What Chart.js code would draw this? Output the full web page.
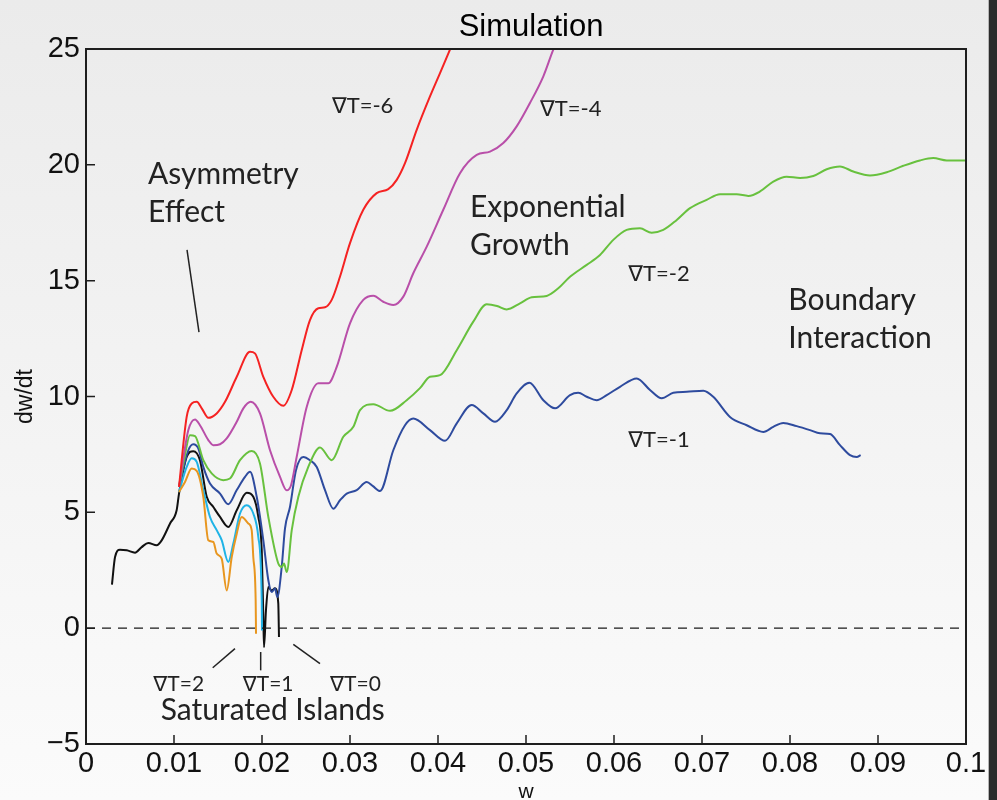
<!DOCTYPE html>
<html>
<head>
<meta charset="utf-8">
<script src="https://cdn.jsdelivr.net/npm/chart.js@4.4.1/dist/chart.umd.min.js"></script>
<style>
  html, body { margin: 0; padding: 0; background: #f3f3f3; }
  #wrap { width: 997px; height: 800px; }
</style>
</head>
<body>
<div id="wrap"><canvas id="grafica" width="997" height="800"></canvas></div>
<script>
// axis ticks
const xTicks = [0, 0.01, 0.02, 0.03, 0.04, 0.05, 0.06, 0.07, 0.08, 0.09, 0.1]
const xTickLabels = ['0', '0.01', '0.02', '0.03', '0.04', '0.05', '0.06', '0.07', '0.08', '0.09', '0.1']
const yTicks = [-5, 0, 5, 10, 15, 20, 25]
const yTickLabels = ['\u22125', '0', '5', '10', '15', '20', '25']

// series, w (x) and dw/dt (y)
const wT0 = [0.00295, 0.0033, 0.00386, 0.00463, 0.00557, 0.00633, 0.00708, 0.00803, 0.0086, 0.00955, 0.0103, 0.01057, 0.01144, 0.01219, 0.01295, 0.01372, 0.01447, 0.01523, 0.01617, 0.01713, 0.01826, 0.01901, 0.01958, 0.01997, 0.02015, 0.02023, 0.02045, 0.02072, 0.0211, 0.02148, 0.02185, 0.02193]
const vT0 = [1.88, 3.07, 3.39, 3.36, 3.26, 3.50, 3.68, 3.58, 3.79, 4.52, 5.09, 5.81, 7.39, 7.64, 7.25, 5.67, 5.23, 4.80, 4.37, 5.09, 5.84, 5.67, 4.80, 3.36, 0.48, -0.82, 0.77, 1.78, 1.63, 1.72, 1.07, -0.38]

const wT1 = [0.01057, 0.01144, 0.01201, 0.01258, 0.01333, 0.01409, 0.01485, 0.01542, 0.01617, 0.01674, 0.0175, 0.01826, 0.01901, 0.01958, 0.01997, 0.0200]
const vT1 = [5.88, 6.96, 7.33, 7.18, 5.96, 4.80, 4.23, 3.80, 2.86, 3.65, 4.95, 5.31, 4.95, 3.94, 1.20, -0.1]

const wT2 = [0.01057, 0.01125, 0.01201, 0.01258, 0.01333, 0.0139, 0.01447, 0.01485, 0.01542, 0.01599, 0.01656, 0.01713, 0.01769, 0.01844, 0.01883, 0.01901, 0.01928, 0.01932]
const vT2 = [5.88, 6.31, 6.89, 6.79, 5.67, 3.79, 3.72, 3.22, 3.00, 1.63, 3.07, 4.08, 4.80, 4.52, 4.23, 3.07, 1.20, -0.24]

const wTm1 = [0.01057, 0.01163, 0.01219, 0.01276, 0.01333, 0.01409, 0.01523, 0.01617, 0.01713, 0.01807, 0.01864, 0.0194, 0.02015, 0.02072, 0.0211, 0.02148, 0.02174, 0.02224, 0.02261, 0.02318, 0.02386, 0.02469, 0.02545, 0.02622, 0.02716, 0.0281, 0.02886, 0.02963, 0.03076, 0.0319, 0.03261, 0.03341, 0.03492, 0.03625, 0.03719, 0.03909, 0.0408, 0.04213, 0.04383, 0.04515, 0.04648, 0.04781, 0.04894, 0.05038, 0.05197, 0.0533, 0.055, 0.05594, 0.0569, 0.05803, 0.05917, 0.06068, 0.06258, 0.06409, 0.06542, 0.06674, 0.06826, 0.07015, 0.07128, 0.07318, 0.07508, 0.07697, 0.0781, 0.07924, 0.08076, 0.08227, 0.08341, 0.08455, 0.08568, 0.08682, 0.08758, 0.08803]
const vTm1 = [6.10, 7.68, 7.94, 7.76, 6.96, 6.24, 5.81, 5.35, 5.96, 6.53, 6.75, 5.67, 3.79, 2.07, 1.56, 1.71, 1.34, 2.64, 4.30, 5.23, 6.82, 7.39, 7.25, 6.96, 5.96, 5.16, 5.52, 5.81, 5.96, 6.31, 6.13, 5.92, 7.68, 8.76, 9.05, 8.55, 8.09, 8.84, 9.63, 9.27, 8.91, 9.41, 10.13, 10.59, 9.84, 9.49, 10.06, 10.16, 9.99, 9.84, 10.06, 10.42, 10.78, 10.28, 9.92, 10.16, 10.20, 10.25, 9.99, 9.12, 8.76, 8.47, 8.69, 8.86, 8.72, 8.55, 8.41, 8.38, 7.90, 7.47, 7.39, 7.47]

const wTm2 = [0.01057, 0.01114, 0.01182, 0.01239, 0.01333, 0.01428, 0.0156, 0.01636, 0.0175, 0.01883, 0.01977, 0.02072, 0.02185, 0.02224, 0.0225, 0.02281, 0.02338, 0.02413, 0.02526, 0.02659, 0.02792, 0.02924, 0.03038, 0.03114, 0.03265, 0.03455, 0.03644, 0.03795, 0.03909, 0.04023, 0.04213, 0.04401, 0.04553, 0.0467, 0.04781, 0.04932, 0.05065, 0.05235, 0.05367, 0.055, 0.0569, 0.05841, 0.05992, 0.06144, 0.06295, 0.06428, 0.0656, 0.06713, 0.06864, 0.07053, 0.07205, 0.07394, 0.07526, 0.07659, 0.0781, 0.07962, 0.08114, 0.08265, 0.08417, 0.08568, 0.08719, 0.08909, 0.09099, 0.09288, 0.09477, 0.09628, 0.09781, 0.1]
const vTm2 = [6.10, 7.25, 8.33, 8.29, 7.25, 6.68, 6.39, 6.46, 7.25, 7.65, 7.11, 4.80, 2.79, 2.64, 2.79, 2.42, 4.23, 5.67, 6.96, 7.80, 7.25, 8.26, 8.69, 9.41, 9.67, 9.38, 9.84, 10.36, 10.85, 10.92, 12.0, 13.23, 13.98, 13.91, 13.76, 14.02, 14.28, 14.34, 14.67, 15.17, 15.68, 16.11, 16.76, 17.19, 17.26, 17.07, 17.19, 17.62, 18.13, 18.49, 18.73, 18.73, 18.66, 18.85, 19.28, 19.49, 19.43, 19.52, 19.81, 19.93, 19.71, 19.54, 19.68, 19.96, 20.19, 20.29, 20.19, 20.19]

const wTm4 = [0.01057, 0.01163, 0.01239, 0.01295, 0.0139, 0.01447, 0.01523, 0.01599, 0.01713, 0.01788, 0.01872, 0.01977, 0.02091, 0.02205, 0.02281, 0.0233, 0.02394, 0.02508, 0.0264, 0.02753, 0.02849, 0.03, 0.03151, 0.03265, 0.03378, 0.03492, 0.03606, 0.03719, 0.03872, 0.0406, 0.0425, 0.0444, 0.04591, 0.04742, 0.04894, 0.05045, 0.05197, 0.0531, 0.0534]
const vTm4 = [6.10, 8.55, 9.01, 8.76, 8.12, 7.90, 7.94, 8.19, 8.91, 9.49, 9.77, 9.27, 7.68, 6.53, 5.95, 6.17, 7.39, 9.55, 10.57, 10.57, 11.28, 13.16, 14.17, 14.35, 14.09, 13.95, 14.31, 15.32, 16.47, 18.06, 19.64, 20.43, 20.57, 20.94, 21.66, 22.67, 23.82, 24.97, 25.23]

const wTm6 = [0.01057, 0.01144, 0.01201, 0.01258, 0.01315, 0.0139, 0.01485, 0.0158, 0.01713, 0.01864, 0.0192, 0.02015, 0.02128, 0.02242, 0.02338, 0.02451, 0.02545, 0.0264, 0.02716, 0.02792, 0.02886, 0.03, 0.03151, 0.03303, 0.03435, 0.03531, 0.03625, 0.03758, 0.03909, 0.04023, 0.04136, 0.0417]
const vTm6 = [6.10, 9.12, 9.70, 9.77, 9.49, 9.08, 9.27, 9.77, 10.85, 11.93, 11.86, 10.85, 9.99, 9.60, 10.28, 12.0, 13.30, 13.81, 13.85, 14.17, 15.17, 16.62, 18.06, 18.78, 18.95, 19.35, 20.07, 21.51, 22.95, 23.96, 24.97, 25.27]

// dashed zero line
const wZero = [0, 0.1]
const vZero = [0, 0]

function puntos(ws, vs) {
    return ws.map((w, i) => ({x: w, y: vs[i]}))
}

function serie(ws, vs, color) {
    return {
        data: puntos(ws, vs),
        borderColor: color,
        borderWidth: 2,
        pointRadius: 0,
        fill: false,
        cubicInterpolationMode: 'monotone'
    }
}

// annotations in data units: text, w, dw/dt (left, baseline), size
const notas = [
    ['Asymmetry', 0.00705, 19.18, 30],
    ['Effect', 0.00705, 17.54, 30],
    ['\u2207T=-6', 0.02795, 22.25, 22],
    ['\u2207T=-4', 0.05159, 22.10, 22],
    ['Exponential', 0.04364, 17.73, 30],
    ['Growth', 0.04364, 16.11, 30],
    ['\u2207T=-2', 0.06163, 15.0, 22],
    ['Boundary', 0.07981, 13.73, 30],
    ['Interaction', 0.07981, 12.08, 30],
    ['\u2207T=-1', 0.06163, 7.80, 22],
    ['\u2207T=2', 0.00765, -2.73, 21],
    ['\u2207T=1', 0.01781, -2.73, 21],
    ['\u2207T=0', 0.02773, -2.73, 21],
    ['Saturated Islands', 0.00849, -3.98, 30]
]
const flechas = [
    [0.01148, 16.33, 0.01284, 12.78],
    [0.01693, -0.886, 0.0144, -1.707],
    [0.01985, -1.03, 0.01985, -1.82],
    [0.02356, -0.70, 0.02659, -1.53]
]

const fondo = {
    id: 'fondo',
    beforeDraw(chart) {
        const c = chart.ctx
        const g = c.createLinearGradient(0, 0, 0, chart.height)
        g.addColorStop(0, '#ebebeb')
        g.addColorStop(1, '#fbfbfb')
        c.save()
        c.fillStyle = g
        c.fillRect(0, 0, chart.width, chart.height)
        c.fillStyle = '#b5b5b5'
        c.fillRect(988, 0, 1, chart.height)
        c.fillStyle = '#2b2b2b'
        c.fillRect(989, 0, 8, chart.height)
        c.restore()
    }
}

const marco = {
    id: 'marco',
    afterDatasetsDraw(chart) {
        const c = chart.ctx
        const a = chart.chartArea
        const sx = chart.scales.x
        const sy = chart.scales.y
        c.save()
        c.strokeStyle = '#1e1e1e'
        c.lineWidth = 2
        c.strokeRect(a.left, a.top, a.right - a.left, a.bottom - a.top)
        c.lineWidth = 1.5
        c.beginPath()
        xTicks.forEach(v => {
            const p = sx.getPixelForValue(v)
            c.moveTo(p, a.bottom)
            c.lineTo(p, a.bottom - 9)
        })
        yTicks.forEach(v => {
            const p = sy.getPixelForValue(v)
            c.moveTo(a.left, p)
            c.lineTo(a.left + 9, p)
        })
        c.stroke()

        // pointer lines
        c.strokeStyle = '#222'
        c.lineWidth = 1.5
        flechas.forEach(f => {
            c.beginPath()
            c.moveTo(sx.getPixelForValue(f[0]), sy.getPixelForValue(f[1]))
            c.lineTo(sx.getPixelForValue(f[2]), sy.getPixelForValue(f[3]))
            c.stroke()
        })

        c.fillStyle = '#222'
        c.textBaseline = 'alphabetic'
        c.textAlign = 'left'
        notas.forEach(n => {
            c.font = n[3] + 'px Lato, "DejaVu Sans", sans-serif'
            c.fillText(n[0], sx.getPixelForValue(n[1]), sy.getPixelForValue(n[2]))
        })

        c.fillStyle = '#000'
        c.textAlign = 'center'
        c.font = '31px "Liberation Sans", Arial, sans-serif'
        c.fillText('Simulation', 531, 36)
        c.restore()
    }
}

const ctx = document.getElementById('grafica')

const grafica = new Chart(ctx, {
    type: 'line',
    data: {
        datasets: [
            {
                data: puntos(wZero, vZero),
                borderColor: '#1a1a1a',
                borderWidth: 1.2,
                borderDash: [9, 7],
                pointRadius: 0,
                fill: false
            },
            serie(wTm6, vTm6, '#f52222'),
            serie(wTm4, vTm4, '#b94fa9'),
            serie(wTm2, vTm2, '#68c13e'),
            serie(wT2, vT2, '#e8961f'),
            serie(wT1, vT1, '#1fb3e6'),
            serie(wTm1, vTm1, '#2e4b9e'),
            serie(wT0, vT0, '#111111')
        ]
    },
    options: {
        responsive: false,
        animation: false,
        layout: { padding: { top: 49, right: 31, left: 0, bottom: 0 } },
        plugins: {
            legend: { display: false },
            tooltip: { enabled: false }
        },
        scales: {
            x: {
                type: 'linear',
                min: 0,
                max: 0.1,
                afterBuildTicks: s => { s.ticks = xTicks.map(v => ({ value: v })) },
                afterFit: s => { s.height = 56 },
                grid: { display: false, drawTicks: false },
                border: { display: false },
                ticks: {
                    autoSkip: false,
                    maxRotation: 0,
                    padding: 3,
                    color: '#111',
                    font: { family: '"Liberation Sans", Arial, sans-serif', size: 29 },
                    callback: (v, i) => xTickLabels[i]
                },
                title: {
                    display: true,
                    text: 'w',
                    color: '#111',
                    padding: 0,
                    font: { family: '"Liberation Sans", Arial, sans-serif', size: 21, lineHeight: 0.76 }
                }
            },
            y: {
                type: 'linear',
                min: -5,
                max: 25,
                afterBuildTicks: s => { s.ticks = yTicks.map(v => ({ value: v })) },
                afterFit: s => { s.width = 86 },
                grid: { display: false, drawTicks: false },
                border: { display: false },
                ticks: {
                    autoSkip: false,
                    padding: 6,
                    color: '#111',
                    font: { family: '"Liberation Sans", Arial, sans-serif', size: 29 },
                    callback: (v, i) => yTickLabels[i]
                },
                title: {
                    display: true,
                    text: 'dw/dt',
                    color: '#111',
                    padding: { top: 14, bottom: 0 },
                    font: { family: '"Liberation Sans", Arial, sans-serif', size: 23, lineHeight: 1 }
                }
            }
        }
    },
    plugins: [fondo, marco]
})
</script>
</body>
</html>
